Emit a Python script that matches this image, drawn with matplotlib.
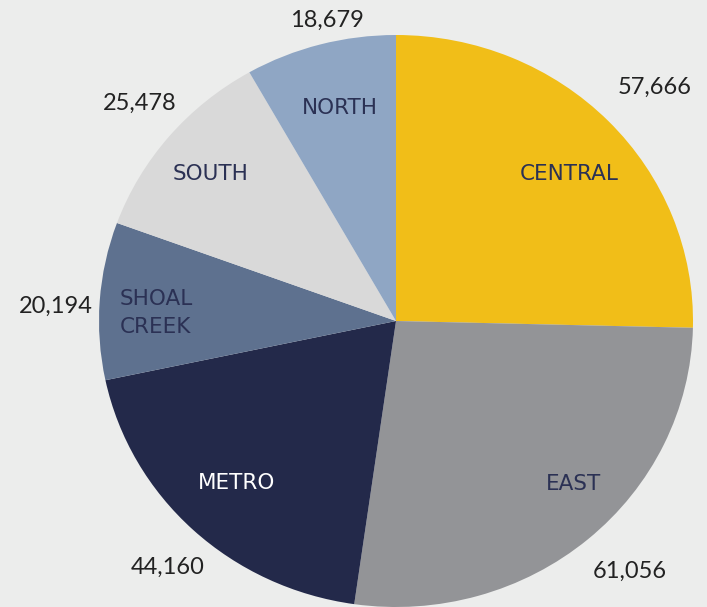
import matplotlib.pyplot as plt

# --- DATA ---
regions = ['CENTRAL', 'EAST', 'METRO', 'SHOAL\nCREEK', 'SOUTH', 'NORTH']
values = [57666, 61056, 44160, 20194, 25478, 18679]
colors = ['#F1BE18', '#939497', '#23294A', '#5E718F', '#D9D9D9', '#8FA6C4']
label_colors = ['#2B3154', '#2B3154', '#FFFFFF', '#2B3154', '#2B3154', '#2B3154']

# label positions in pixels of the reference (inner name, outer value)
name_px = [(569, 174), (574, 484), (237, 483), (120, 313), (211, 174), (340, 108)]
value_px = [(655, 87), (630, 571), (168, 567), (56, 306), (140, 103), (327, 20)]

W, H = 707, 607
CX, CY, RX, RY = 396, 321, 297, 286

BG = '#ECEDEC'
plt.rcParams['font.family'] = ['Lato', 'DejaVu Sans']

fig = plt.figure(figsize=(W / 100, H / 100), dpi=100, facecolor=BG)
ax = fig.add_axes([(CX - RX) / W, (H - CY - RY) / H, 2 * RX / W, 2 * RY / H])
ax.set_facecolor(BG)

ax.pie(values, colors=colors, startangle=90, counterclock=False,
       wedgeprops=dict(linewidth=0), radius=1.0, frame=False)
ax.set_aspect('auto')
ax.set_xlim(-1, 1)
ax.set_ylim(-1, 1)
ax.axis('off')


def to_data(px, py):
    return (px - CX) / RX, (CY - py) / RY


for name, c, (px, py) in zip(regions, label_colors, name_px):
    x, y = to_data(px, py)
    ha = 'left' if '\n' in name else 'center'
    ax.text(x, y, name, color=c, fontsize=15.5, ha=ha, va='center',
            family='DejaVu Sans', linespacing=1.45, clip_on=False)

for v, (px, py) in zip(values, value_px):
    x, y = to_data(px, py)
    ax.text(x, y, f'{v:,}', color='#222222', fontsize=17, ha='center',
            va='center', clip_on=False)

fig.savefig('out.png', dpi=100, facecolor=BG)
